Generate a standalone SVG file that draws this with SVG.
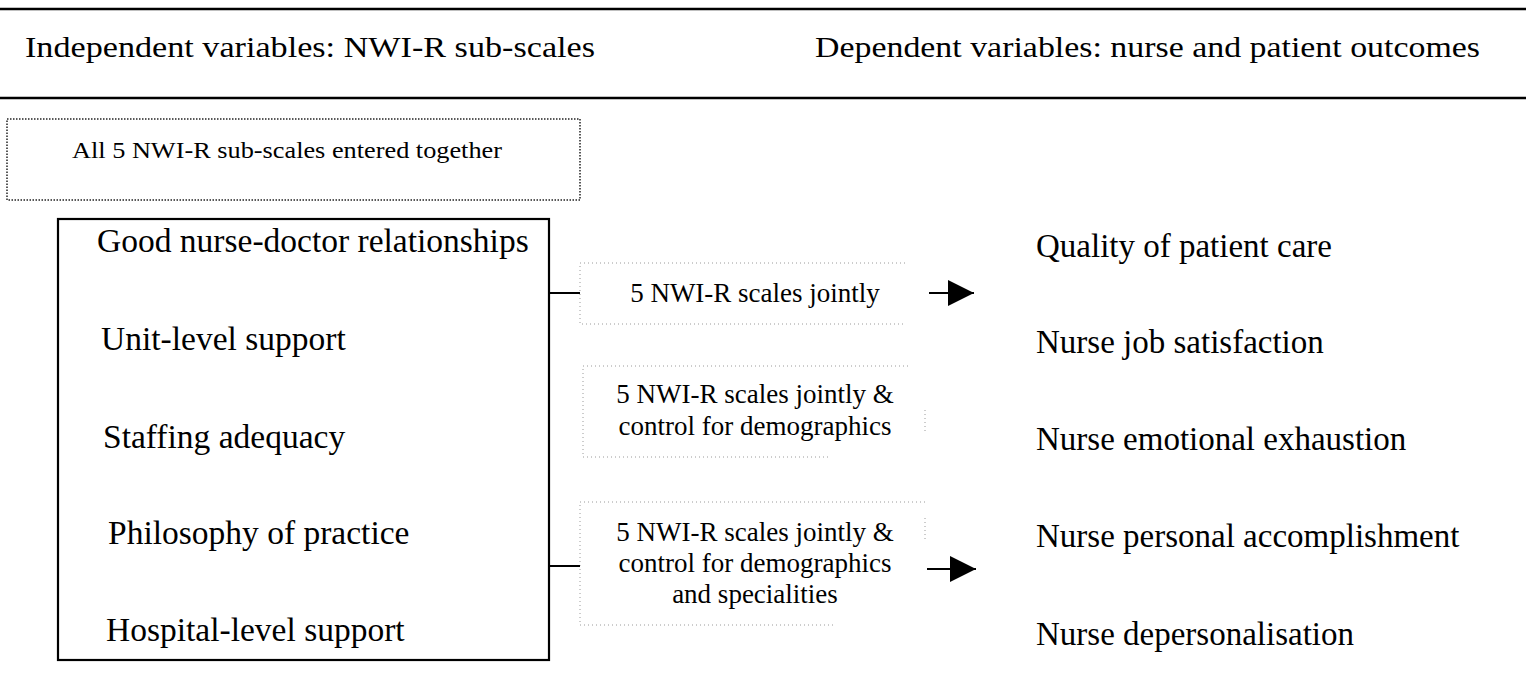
<svg xmlns="http://www.w3.org/2000/svg" width="1526" height="684" viewBox="0 0 1526 684">
<style>
  text { font-family: "Liberation Serif", "Times New Roman", serif; fill: #000; }
  .hdr { font-size: 29px; }
  .lbl { font-size: 33.5px; }
  .out { font-size: 33px; }
  .mid { font-size: 27px; text-anchor: middle; }
  .faint { fill: none; stroke: #9a9a9a; stroke-width: 1; stroke-dasharray: 1 3; }
  .rule { stroke: #000; stroke-width: 2.5; }
  .conn { stroke: #000; stroke-width: 2; fill: none; }
</style>
<defs>
  <marker id="arr" markerWidth="28" markerHeight="26" refX="26" refY="13" orient="auto" markerUnits="userSpaceOnUse">
    <polygon points="0,0 26,13 0,26" fill="#000"/>
  </marker>
</defs>
<rect width="1526" height="684" fill="#fff"/>

<g id="header">
  <line class="rule" x1="0" y1="9" x2="1526" y2="9"/>
  <line class="rule" x1="0" y1="98" x2="1526" y2="98"/>
  <text class="hdr" x="25" y="57" textLength="570" lengthAdjust="spacingAndGlyphs">Independent variables: NWI-R sub-scales</text>
  <text class="hdr" x="815" y="57" textLength="665" lengthAdjust="spacingAndGlyphs">Dependent variables: nurse and patient outcomes</text>
</g>

<g id="all-entered">
  <rect x="7" y="119" width="573" height="81" fill="none" stroke="#222" stroke-width="1.5" stroke-dasharray="1.5 1.5"/>
  <text x="72" y="158" font-size="23" textLength="430" lengthAdjust="spacingAndGlyphs">All 5 NWI-R sub-scales entered together</text>
</g>

<g id="subscales">
  <rect x="58" y="219" width="491" height="441" fill="none" stroke="#000" stroke-width="2.2"/>
  <text class="lbl" x="97" y="252">Good nurse-doctor relationships</text>
  <text class="lbl" x="101" y="350">Unit-level support</text>
  <text class="lbl" x="103" y="448">Staffing adequacy</text>
  <text class="lbl" x="108" y="544">Philosophy of practice</text>
  <text class="lbl" x="106" y="641">Hospital-level support</text>
</g>

<g id="model1">
  <path class="faint" d="M905,263 H580 V324 H905"/>
  <text class="mid" x="755" y="302">5 NWI-R scales jointly</text>
</g>

<g id="model2">
  <path class="faint" d="M908,366 H583 V457 H830 M925,410 V432"/>
  <text class="mid" x="755" y="403">5 NWI-R scales jointly &amp;</text>
  <text class="mid" x="755" y="435">control for demographics</text>
</g>

<g id="model3">
  <path class="faint" d="M925,502 H580 V625 H835 M925,518 V540"/>
  <text class="mid" x="755" y="541">5 NWI-R scales jointly &amp;</text>
  <text class="mid" x="755" y="572">control for demographics</text>
  <text class="mid" x="755" y="603">and specialities</text>
</g>

<g id="outcomes">
  <text class="out" x="1036" y="257">Quality of patient care</text>
  <text class="out" x="1036" y="353">Nurse job satisfaction</text>
  <text class="out" x="1036" y="450">Nurse emotional exhaustion</text>
  <text class="out" x="1036" y="547">Nurse personal accomplishment</text>
  <text class="out" x="1036" y="645">Nurse depersonalisation</text>
</g>

<g id="connectors">
  <line class="conn" x1="549" y1="293" x2="580" y2="293"/>
  <line class="conn" x1="549" y1="566" x2="580" y2="566"/>
  <line class="conn" x1="929" y1="293" x2="974" y2="293" marker-end="url(#arr)"/>
  <line class="conn" x1="927" y1="569" x2="976" y2="569" marker-end="url(#arr)"/>
</g>
</svg>
